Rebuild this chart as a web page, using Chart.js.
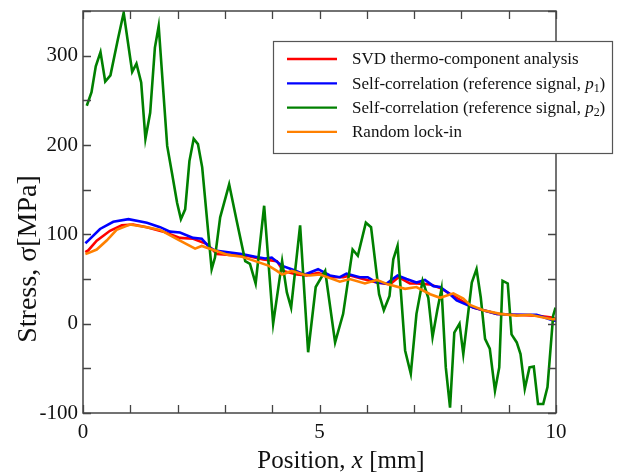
<!DOCTYPE html>
<html>
<head>
<meta charset="utf-8">
<script src="https://cdn.jsdelivr.net/npm/chart.js@4/dist/chart.umd.min.js"></script>
<style>
html,body{margin:0;padding:0;background:#fff}
#wrap{width:632px;height:473px}
</style>
</head>
<body>
<div id="wrap"><canvas id="chart"></canvas></div>
<script>
// position along the specimen [mm] and stress [MPa]
const svdX=[0.05,0.11,0.29,0.57,0.82,1.06,1.35,1.70,2.05,2.33,2.62,2.83,3.11,3.46,3.81,4.10,4.23,4.52,4.73,4.97,5.22,5.50,5.65,5.92,6.21,6.49,6.67,6.91,7.05,7.33,7.55,7.83,8.25,8.75,9.10,9.59,9.91,10]
const svdY=[80,82,93,104,110,111,108,103,96,95,89,78,77,76,72,70,59,55,54,57,52,52,54,50,46,44,52,45,45,44,40,31,18,11,10,9,7,5]

const p1X=[0.05,0.11,0.36,0.64,0.96,1.35,1.63,1.84,2.05,2.33,2.51,2.68,2.79,3.07,3.36,3.64,3.85,3.99,4.20,4.41,4.69,4.97,5.22,5.43,5.57,5.85,6.02,6.21,6.42,6.65,6.84,7.05,7.23,7.41,7.55,7.76,7.90,8.25,8.75,9.10,9.59,9.91,10]
const p1Y=[90,93,106,114,117,113,108,103,102,96,95,85,82,80,78,75,73,74,65,61,55,61,54,52,56,52,52,46,45,54,50,46,49,42,41,33,26,18,11,10,10,4,3]

const p2X=[0.08,0.18,0.27,0.37,0.47,0.58,0.74,0.86,1.04,1.13,1.23,1.32,1.42,1.52,1.60,1.78,1.88,1.99,2.07,2.16,2.25,2.34,2.43,2.52,2.72,2.79,2.90,3.09,3.25,3.43,3.53,3.65,3.83,4.02,4.21,4.31,4.40,4.59,4.76,4.92,5.12,5.33,5.50,5.70,5.81,5.98,6.09,6.26,6.36,6.48,6.56,6.65,6.81,6.93,7.05,7.18,7.30,7.39,7.49,7.58,7.67,7.76,7.85,7.96,8.04,8.22,8.32,8.41,8.50,8.60,8.71,8.80,8.87,8.98,9.06,9.17,9.25,9.34,9.44,9.53,9.62,9.73,9.82,9.94,9.99]
const p2Y=[244,259,288,304,271,278,319,348,282,291,270,207,236,309,333,199,169,135,117,128,182,207,201,175,61,74,119,156,115,70,67,45,132,0,70,35,18,110,-32,41,59,-21,11,83,76,113,108,33,15,31,72,87,-30,-56,11,48,29,-15,15,39,-49,-94,-10,0,-34,46,61,29,-17,-28,-75,-49,48,45,-12,-21,-34,-73,-49,-48,-90,-90,-71,9,18]

const lockX=[0.05,0.11,0.29,0.50,0.71,0.99,1.35,1.63,1.98,2.19,2.37,2.51,2.79,3.07,3.36,3.64,3.92,4.10,4.21,4.41,4.66,4.80,5.01,5.22,5.43,5.64,5.96,6.21,6.45,6.81,7.05,7.34,7.55,7.83,8.04,8.18,8.46,8.82,9.17,9.45,9.91,10]
const lockY=[78,79,83,93,105,111,108,105,95,89,84,87,82,77,75,70,65,59,55,59,55,54,55,51,47,50,45,49,44,39,41,33,29,34,28,21,15,11,9,10,5,5]

const xTicks=[0,5,10]
const yTicks=[-100,0,100,200,300]

const serif='"Liberation Serif","Times New Roman",serif'

function pts(xs,ys){
  return xs.map((x,i)=>({x:x,y:ys[i]}))
}

// legend entries: text pieces, [text, italic, subscript]
const legendItems=[
  {color:'#ff0000',parts:[['SVD thermo-component analysis']]},
  {color:'#0000ff',parts:[['Self-correlation (reference signal, '],['p',true],['1',false,true],[')']]},
  {color:'#008000',parts:[['Self-correlation (reference signal, '],['p',true],['2',false,true],[')']]},
  {color:'#ff8000',parts:[['Random lock-in']]}
]

function drawParts(ctx,parts,x,y,size){
  parts.forEach(p=>{
    let sz=p[2]?size*0.7:size
    ctx.font=(p[1]?'italic ':'')+sz+'px '+serif
    ctx.fillText(p[0],x,p[2]?y+size*0.25:y)
    x+=ctx.measureText(p[0]).width
  })
  return x
}

const decor={
  id:'decor',
  afterDraw(chart){
    const ctx=chart.ctx
    const a=chart.chartArea
    const xs=chart.scales.x, ys=chart.scales.y
    ctx.save()
    ctx.strokeStyle='#444'
    ctx.lineWidth=1.5
    ctx.strokeRect(a.left,a.top,a.right-a.left,a.bottom-a.top)
    // inward ticks on all four sides
    ctx.lineWidth=1.3
    ctx.beginPath()
    for(let v=-100;v<=350;v+=50){
      let py=Math.round(ys.getPixelForValue(v))+0.5
      ctx.moveTo(a.left,py);ctx.lineTo(a.left+8,py)
      ctx.moveTo(a.right,py);ctx.lineTo(a.right-8,py)
    }
    for(let v=0;v<=10;v++){
      let px=Math.round(xs.getPixelForValue(v))+0.5
      ctx.moveTo(px,a.bottom);ctx.lineTo(px,a.bottom-8)
      ctx.moveTo(px,a.top);ctx.lineTo(px,a.top+8)
    }
    ctx.stroke()

    // legend
    const lx=273, ly=41, lw=339, lh=112
    ctx.fillStyle='#fff'
    ctx.fillRect(lx,ly,lw,lh)
    ctx.strokeStyle='#555'
    ctx.lineWidth=1.2
    ctx.strokeRect(lx+0.5,ly+0.5,lw,lh)
    ctx.textBaseline='middle'
    legendItems.forEach((it,i)=>{
      let y=59+i*24.3
      ctx.strokeStyle=it.color
      ctx.lineWidth=2.3
      ctx.beginPath();ctx.moveTo(287,y);ctx.lineTo(337,y);ctx.stroke()
      ctx.fillStyle='#111'
      drawParts(ctx,it.parts,352,y+1,17)
    })

    // axis titles
    ctx.fillStyle='#111'
    ctx.textBaseline='alphabetic'
    let xt=[['Position, '],['x',true],[' [mm]']]
    let w=0
    xt.forEach(p=>{ctx.font=(p[1]?'italic ':'')+'25px '+serif;w+=ctx.measureText(p[0]).width})
    drawParts(ctx,xt,341-w/2,468,25)

    ctx.translate(36,259)
    ctx.rotate(-Math.PI/2)
    ctx.font='28px '+serif
    let yt='Stress, \u03c3[MPa]'
    ctx.fillText(yt,-ctx.measureText(yt).width/2,0)
    ctx.restore()
  }
}

new Chart(document.getElementById('chart'),{
  type:'line',
  data:{
    datasets:[
      {label:'SVD thermo-component analysis',data:pts(svdX,svdY),borderColor:'#ff0000',order:3},
      {label:'Self-correlation (reference signal, p1)',data:pts(p1X,p1Y),borderColor:'#0000ff',order:2},
      {label:'Self-correlation (reference signal, p2)',data:pts(p2X,p2Y),borderColor:'#008000',order:1},
      {label:'Random lock-in',data:pts(lockX,lockY),borderColor:'#ff8000',order:0}
    ]
  },
  options:{
    responsive:true,
    maintainAspectRatio:false,
    animation:false,
    layout:{padding:{top:11,right:76,left:0,bottom:0}},
    elements:{
      point:{radius:0},
      line:{borderWidth:2.6,tension:0,fill:false}
    },
    plugins:{legend:{display:false},tooltip:{enabled:false}},
    scales:{
      x:{
        type:'linear',min:0,max:10,
        grid:{display:false,drawTicks:false},
        border:{display:false},
        afterFit(s){s.height=60;s.paddingLeft=0;s.paddingRight=0},
        afterBuildTicks(s){s.ticks=xTicks.map(v=>({value:v}))},
        ticks:{color:'#111',padding:7,font:{family:serif,size:21},maxRotation:0}
      },
      y:{
        min:-100,max:350,
        grid:{display:false,drawTicks:false},
        border:{display:false},
        afterFit(s){s.width=83;s.paddingTop=0;s.paddingBottom=0},
        afterBuildTicks(s){s.ticks=yTicks.map(v=>({value:v}))},
        ticks:{color:'#111',padding:5,font:{family:serif,size:21}}
      }
    }
  },
  plugins:[decor]
})
</script>
</body>
</html>
